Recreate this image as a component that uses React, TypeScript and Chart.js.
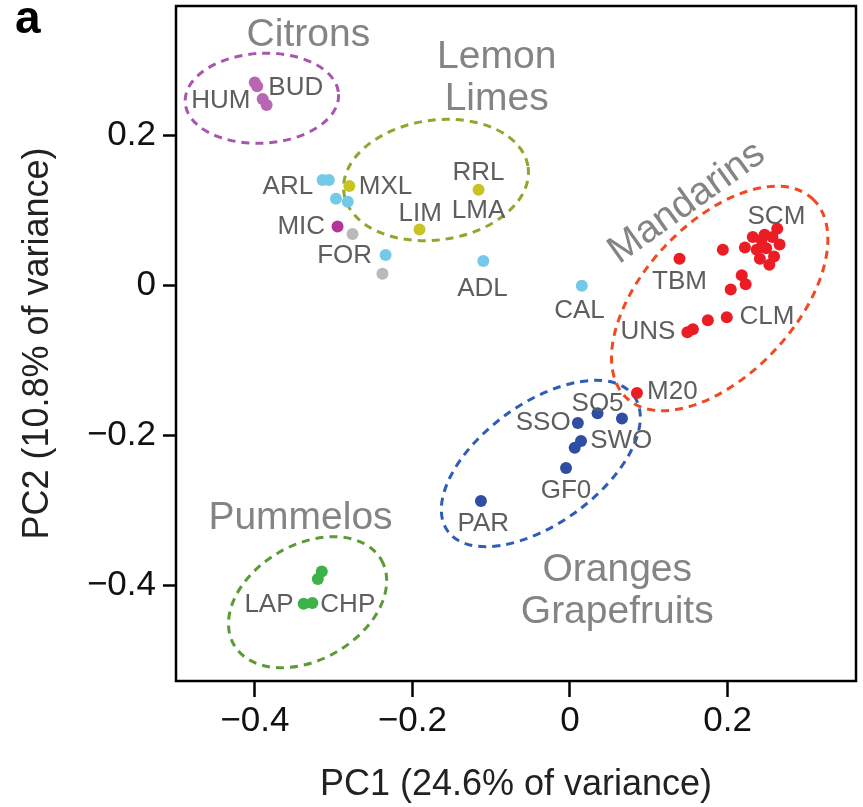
import { useEffect, useRef } from 'react';
import { Chart, registerables } from 'chart.js';
Chart.register(...registerables);

const FONT = "'Liberation Sans', Arial, Helvetica, sans-serif";

const xTicks = [-0.4, -0.2, 0, 0.2];
const yTicks = [0.2, 0, -0.2, -0.4];
const xAxisTitle = 'PC1 (24.6% of variance)';
const yAxisTitle = 'PC2 (10.8% of variance)';
const panelLetter = 'a';

// Point series [PC1, PC2]
const citrons = [[-0.400, 0.271], [-0.397, 0.266], [-0.390, 0.249], [-0.385, 0.241]];
const lightBlue = [[-0.314, 0.141], [-0.306, 0.141], [-0.297, 0.116], [-0.282, 0.112], [-0.234, 0.041], [-0.110, 0.033], [0.015, 0.0]];
const lemonLimes = [[-0.280, 0.133], [-0.116, 0.128], [-0.191, 0.075]];
const micronesian = [[-0.295, 0.079]];
const greyPts = [[-0.276, 0.069], [-0.238, 0.016]];
const mandarins = [
  [0.139, 0.036], [0.194, 0.048], [0.218, 0.014], [0.223, 0.002], [0.204, -0.005],
  [0.199, -0.042], [0.175, -0.046], [0.156, -0.058], [0.149, -0.062],
  [0.222, 0.051], [0.232, 0.065], [0.243, 0.061], [0.247, 0.068], [0.257, 0.065],
  [0.263, 0.076], [0.266, 0.055], [0.259, 0.039], [0.253, 0.028], [0.241, 0.036],
  [0.249, 0.050], [0.237, 0.048], [0.085, -0.143],
];
const oranges = [[0.035, -0.170], [0.066, -0.177], [0.010, -0.183], [0.014, -0.207], [0.006, -0.216], [-0.005, -0.243], [-0.113, -0.287]];
const pummelos = [[-0.315, -0.381], [-0.320, -0.391], [-0.327, -0.423], [-0.338, -0.424]];

// Accession labels (centre of text)
const pointLabels = [
  { t: 'HUM', x: -0.443, y: 0.250 }, { t: 'BUD', x: -0.348, y: 0.267 },
  { t: 'ARL', x: -0.358, y: 0.135 }, { t: 'MXL', x: -0.234, y: 0.135 },
  { t: 'RRL', x: -0.116, y: 0.154 }, { t: 'LMA', x: -0.116, y: 0.103 },
  { t: 'LIM', x: -0.190, y: 0.099 }, { t: 'MIC', x: -0.341, y: 0.081 },
  { t: 'FOR', x: -0.286, y: 0.043 }, { t: 'ADL', x: -0.111, y: -0.001 },
  { t: 'CAL', x: 0.012, y: -0.030 }, { t: 'SCM', x: 0.262, y: 0.095 },
  { t: 'TBM', x: 0.139, y: 0.008 }, { t: 'CLM', x: 0.250, y: -0.038 },
  { t: 'UNS', x: 0.099, y: -0.058 }, { t: 'M20', x: 0.130, y: -0.138 },
  { t: 'SO5', x: 0.035, y: -0.154 }, { t: 'SSO', x: -0.034, y: -0.180 },
  { t: 'SWO', x: 0.065, y: -0.204 }, { t: 'GF0', x: -0.005, y: -0.270 },
  { t: 'PAR', x: -0.110, y: -0.314 }, { t: 'LAP', x: -0.382, y: -0.423 },
  { t: 'CHP', x: -0.282, y: -0.423 },
];

// Group titles (x centre, y baseline, rotation deg)
const groupTitles = [
  { t: 'Citrons', x: -0.332, y: 0.320, r: 0 },
  { t: 'Lemon', x: -0.093, y: 0.291, r: 0 },
  { t: 'Limes', x: -0.093, y: 0.234, r: 0 },
  { t: 'Mandarins', x: 0.146, y: 0.114, r: -35.5 },
  { t: 'Pummelos', x: -0.342, y: -0.324, r: 0 },
  { t: 'Oranges', x: 0.060, y: -0.394, r: 0 },
  { t: 'Grapefruits', x: 0.060, y: -0.450, r: 0 },
];

// Group ellipses: centre, semi-axes (PC1 units), rotation deg
const groupEllipses = [
  { cx: -0.391, cy: 0.250, a: 0.0975, b: 0.057, r: 3, c: '#a855ae' },
  { cx: -0.170, cy: 0.141, a: 0.118, b: 0.076, r: 8, c: '#8ea82c' },
  { cx: 0.190, cy: -0.017, a: 0.173, b: 0.096, r: 47, c: '#f04a23' },
  { cx: -0.037, cy: -0.237, a: 0.146, b: 0.076, r: 36, c: '#2e5db5' },
  { cx: -0.333, cy: -0.422, a: 0.108, b: 0.073, r: 30, c: '#5b9a35' },
];

const fmt = (v: number) => (v === 0 ? '0' : (v < 0 ? '\u2212' : '') + Math.abs(v).toFixed(1));

const toPts = (arr: number[][]) => arr.map(([x, y]) => ({ x, y }));

const overlay = {
  id: 'overlay',
  beforeDatasetsDraw(chart: any) {
    const { ctx, scales } = chart;
    const xs = scales.x, ys = scales.y;
    const ppu = xs.getPixelForValue(1) - xs.getPixelForValue(0);
    ctx.save();
    ctx.lineWidth = 3;
    ctx.setLineDash([8, 6]);
    for (const e of groupEllipses) {
      ctx.strokeStyle = e.c;
      ctx.beginPath();
      ctx.ellipse(xs.getPixelForValue(e.cx), ys.getPixelForValue(e.cy), e.a * ppu, e.b * ppu, (-e.r * Math.PI) / 180, 0, Math.PI * 2);
      ctx.stroke();
    }
    ctx.restore();
  },
  afterDatasetsDraw(chart: any) {
    const { ctx, scales, chartArea } = chart;
    const xs = scales.x, ys = scales.y;
    ctx.save();
    ctx.textAlign = 'center';
    ctx.textBaseline = 'alphabetic';
    ctx.fillStyle = '#5e5e5e';
    const ls = 26;
    ctx.font = `${ls}px ${FONT}`;
    for (const l of pointLabels) {
      ctx.fillText(l.t, xs.getPixelForValue(l.x), ys.getPixelForValue(l.y) + 0.358 * ls);
    }
    ctx.fillStyle = '#848484';
    const ts = 39;
    ctx.font = `${ts}px ${FONT}`;
    for (const g of groupTitles) {
      const px = xs.getPixelForValue(g.x), py = ys.getPixelForValue(g.y);
      ctx.save();
      ctx.translate(px, py);
      ctx.rotate((g.r * Math.PI) / 180);
      ctx.fillText(g.t, 0, g.r ? 0.358 * ts : 0);
      ctx.restore();
    }
    // frame
    ctx.strokeStyle = '#000';
    ctx.lineWidth = 2.5;
    ctx.setLineDash([]);
    ctx.strokeRect(chartArea.left, chartArea.top, chartArea.right - chartArea.left, chartArea.bottom - chartArea.top);
    // panel letter
    ctx.fillStyle = '#000';
    ctx.textAlign = 'left';
    ctx.font = `bold 46px ${FONT}`;
    ctx.fillText(panelLetter, 15, 33);
    ctx.restore();
  },
};

export default function App() {
  const ref = useRef<HTMLCanvasElement>(null);
  useEffect(() => {
    document.body.style.margin = '0';
    const mk = (data: number[][], color: string) => ({
      data: toPts(data),
      backgroundColor: color,
      borderWidth: 0,
      pointRadius: 6,
      pointHoverRadius: 6,
    });
    const chart = new Chart(ref.current!, {
      type: 'scatter',
      data: {
        datasets: [
          mk(citrons, '#b865b4'),
          mk(lightBlue, '#74c9e8'),
          mk(lemonLimes, '#c8c424'),
          mk(micronesian, '#b0369c'),
          mk(greyPts, '#b9b9b9'),
          mk(mandarins, '#ec1c24'),
          mk(oranges, '#2f4ea3'),
          mk(pummelos, '#3db249'),
        ],
      },
      options: {
        animation: false,
        responsive: false,
        devicePixelRatio: 1,
        layout: { padding: { top: 3, right: 7, left: 0, bottom: 0 } },
        plugins: { legend: { display: false }, tooltip: { enabled: false } },
        scales: {
          x: {
            type: 'linear',
            min: -0.5,
            max: 0.363,
            afterBuildTicks: (s: any) => { s.ticks = xTicks.map((v) => ({ value: v })); },
            afterFit: (s: any) => { s.height = 126; s.paddingLeft = 0; s.paddingRight = 0; },
            grid: { drawOnChartArea: false, drawTicks: true, tickLength: 16, tickWidth: 2.5, color: '#000' },
            border: { display: false },
            ticks: { font: { family: FONT, size: 35 }, color: '#111', padding: 3, maxRotation: 0, callback: (v: any) => fmt(Number(v)) },
            title: { display: true, text: xAxisTitle, font: { family: FONT, size: 36 }, color: '#222', padding: { top: 0, bottom: 0 } },
          },
          y: {
            type: 'linear',
            min: -0.527,
            max: 0.373,
            afterBuildTicks: (s: any) => { s.ticks = yTicks.map((v) => ({ value: v })); },
            afterFit: (s: any) => { s.width = 176; s.paddingTop = 0; s.paddingBottom = 0; },
            grid: { drawOnChartArea: false, drawTicks: true, tickLength: 13, tickWidth: 2.5, color: '#000' },
            border: { display: false },
            ticks: { font: { family: FONT, size: 35 }, color: '#111', padding: 7, callback: (v: any) => fmt(Number(v)) },
            title: { display: true, text: yAxisTitle, font: { family: FONT, size: 36 }, color: '#222', padding: { top: 16, bottom: 0 } },
          },
        },
      },
      plugins: [overlay],
    } as any);
    return () => chart.destroy();
  }, []);
  return (
    <div style={{ width: 863, height: 807 }}>
      <canvas ref={ref} width={863} height={807} />
    </div>
  );
}
